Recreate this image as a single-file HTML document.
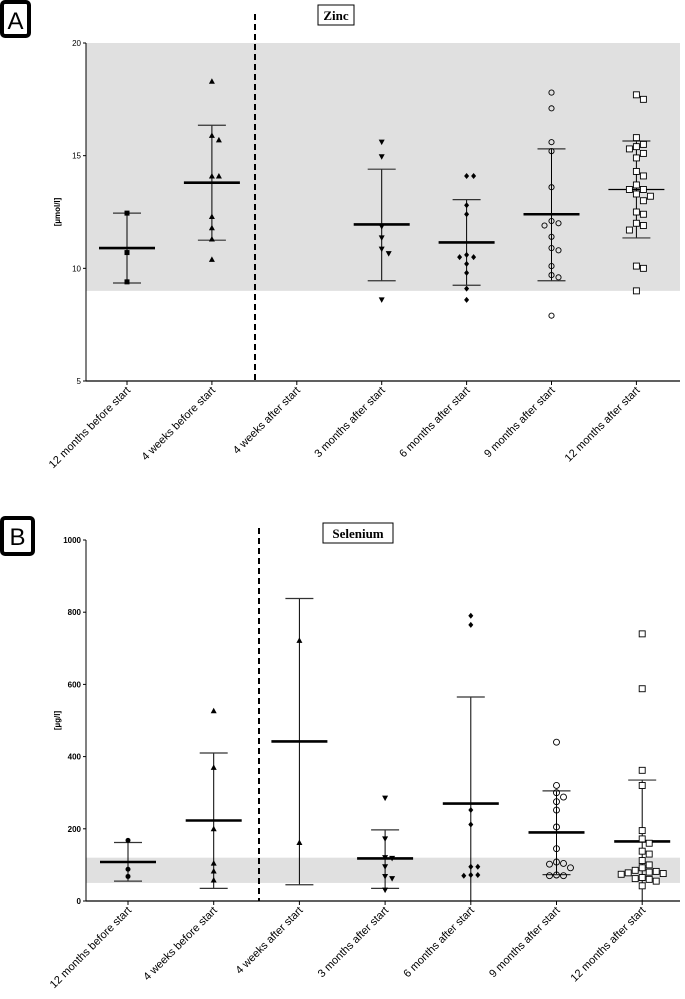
<!DOCTYPE html>
<html><head><meta charset="utf-8">
<style>
html,body{margin:0;padding:0;background:#fff;}
svg{display:block;font-family:"Liberation Sans",sans-serif;}
</style></head>
<body>
<svg id="fig" width="685" height="999" viewBox="0 0 685 999">
  <rect x="2" y="2" width="27" height="34" rx="3" fill="#fff" stroke="#000" stroke-width="4"/>
  <text x="15.5" y="29" font-size="24" text-anchor="middle">A</text>
  <rect x="2" y="518" width="31" height="36" rx="3" fill="#fff" stroke="#000" stroke-width="4"/>
  <text x="17.5" y="545" font-size="24" text-anchor="middle">B</text>
  <g id="zinc"></g>
  <g id="selen"></g>
</svg>
<script>
const categories = ["12 months before start","4 weeks before start","4 weeks after start","3 months after start","6 months after start","9 months after start","12 months after start"];

const zincPoints = [
 [12.45,10.7,9.4],
 [18.3,15.9,15.7,14.1,14.1,12.3,11.8,11.3,10.4],
 [],
 [15.6,14.95,11.85,11.35,10.85,10.65,8.6],
 [14.1,14.1,12.8,12.4,10.6,10.5,10.5,10.2,9.8,9.1,8.6],
 [17.8,17.1,15.6,15.2,13.6,12.1,12.0,11.9,11.4,10.9,10.8,10.1,9.7,9.6,7.9],
 [17.7,17.5,15.8,15.5,15.4,15.3,15.1,14.9,14.3,14.1,13.7,13.5,13.5,13.3,13.2,13.0,12.5,12.4,12.0,11.9,11.7,10.1,10.0,9.0]
];
const zincMean = [10.9,13.8,null,11.95,11.15,12.4,13.5];
const zincLow  = [9.35,11.25,null,9.45,9.25,9.45,11.35];
const zincHigh = [12.45,16.35,null,14.4,13.05,15.3,15.65];
const zincTicks = [5,10,15,20];
const zincRef = [9,20];

const selPoints = [
 [168,88,68],
 [527,370,200,105,83,58],
 [722,162],
 [285,172,120,118,95,68,62,30],
 [790,765,252,212,95,95,72,72,70],
 [440,320,300,288,275,252,205,145,108,104,102,92,72,70,70],
 [740,588,362,320,195,172,160,138,130,112,100,92,85,82,80,78,76,74,65,62,60,55,42]
];
const selMean = [108,223,442,118,270,190,165];
const selLow  = [55,35,45,35,0,73,0];
const selHigh = [162,410,838,197,565,305,335];
const selTicks = [0,200,400,600,800,1000];
const selRef = [50,120];

const markers = ["square","triangle","triangle","invtri","diamond","circle","opensq"];
const NS="http://www.w3.org/2000/svg";
function mk(parent,tag,attrs){const e=document.createElementNS(NS,tag);for(const k in attrs)e.setAttribute(k,attrs[k]);parent.appendChild(e);return e;}

function drawChart(g,cfg){
  const yS=v=>cfg.y0+(v-cfg.vmin)/(cfg.vmax-cfg.vmin)*(cfg.y1-cfg.y0);
  const xS=i=>cfg.xFirst+i*cfg.xStep;
  let r=mk(g,'rect',{x:cfg.axX,y:yS(cfg.ref[1]),width:680-cfg.axX,height:yS(cfg.ref[0])-yS(cfg.ref[1]),fill:'#e0e0e0'});
  
  
  let ax=mk(g,'line',{x1:cfg.axX,y1:yS(cfg.vmax),x2:cfg.axX,y2:cfg.y0,stroke:'#000','stroke-width':1});
  
  
  let bx=mk(g,'line',{x1:cfg.axX,y1:cfg.y0,x2:680,y2:cfg.y0,stroke:'#000','stroke-width':1.2});
  
  
  cfg.ticks.forEach(t=>{
    const y=yS(t);
    const tl=mk(g,'line',{x1:cfg.axX-3,y1:y,x2:cfg.axX,y2:y,stroke:'#000'});
    
    
    const tx=mk(g,'text',{x:cfg.axX-5,y:y+3,'font-size':cfg.tickFont,'text-anchor':'end','font-weight':cfg.tickBold?'bold':'normal'});
    tx.textContent=t;
    
    
  });
  const yt=mk(g,'text',{x:0,y:0,'font-size':8,'font-weight':'bold','text-anchor':'middle',transform:`translate(${cfg.axX-26},${(yS(cfg.vmax)+cfg.y0)/2}) rotate(-90)`});
  yt.textContent=cfg.unit;
  
  
  const dl=mk(g,'line',{x1:cfg.dashX,y1:cfg.dashTop,x2:cfg.dashX,y2:cfg.y0,stroke:'#000','stroke-width':2,'stroke-dasharray':'6,4'});
  
  
  const tb=mk(g,'rect',{x:cfg.titleX-cfg.titleW/2,y:cfg.titleY-13,width:cfg.titleW,height:20,fill:'#fff',stroke:'#000','stroke-width':1});
  
  
  const tt=mk(g,'text',{x:cfg.titleX,y:cfg.titleY+2,'font-size':13,'font-weight':'bold','text-anchor':'middle','font-family':'Liberation Serif, serif'});
  tt.textContent=cfg.title;
  
  
  categories.forEach((c,i)=>{
    const x=xS(i);
    const tk=mk(g,'line',{x1:x,y1:cfg.y0,x2:x,y2:cfg.y0+4,stroke:'#000'});
    
    
    const lb=mk(g,'text',{x:0,y:0,'font-size':11,'text-anchor':'end',transform:`translate(${x+4},${cfg.y0+10}) rotate(-45)`});
    lb.textContent=c;
    
    
    if(cfg.mean[i]!=null){
      const lo=Math.max(cfg.low[i],cfg.vmin);
      const eb=mk(g,'line',{x1:x,y1:yS(lo),x2:x,y2:yS(cfg.high[i]),stroke:'#000','stroke-width':1});
      
      
      [cfg.high[i],cfg.low[i]].forEach(v=>{ if(v<=cfg.vmin) return;
        const cp=mk(g,'line',{x1:x-14,y1:yS(v),x2:x+14,y2:yS(v),stroke:'#333','stroke-width':1.2});
        
        
      });
      const thin = cfg.thinLast && i===6;
      const ml=mk(g,'line',{x1:x-28,y1:yS(cfg.mean[i]),x2:x+28,y2:yS(cfg.mean[i]),stroke:'#000','stroke-width':thin?1.2:2.6});
      
      
    }
    const pts=cfg.points[i];
    const placed=[];
    pts.forEach((v,j)=>{
      const py=yS(v);
      // find offset avoiding overlap
      let off=0;
      const cands=[0,7,-7,14,-14,21,-21];
      for(const o of cands){
        if(!placed.some(p=>Math.abs(p[0]-o)<7 && Math.abs(p[1]-py)<7)){off=o;break;}
      }
      placed.push([off,py]);
      const px=x+off;
      let m;
      const t=markers[i];
      if(t==='square') m=mk(g,'rect',{x:px-2.5,y:py-2.5,width:5,height:5,fill:'#000'});
      else if(t==='opensq') m=mk(g,'rect',{x:px-3,y:py-3,width:6,height:6,fill:'#fff',stroke:'#000','stroke-width':0.9});
      else if(t==='circle') m=mk(g,'circle',{cx:px,cy:py,r:cfg.circR,fill:'none',stroke:'#000','stroke-width':0.9});
      else if(t==='triangle') m=mk(g,'polygon',{points:`${px},${py-3} ${px-3},${py+2.5} ${px+3},${py+2.5}`,fill:'#000'});
      else if(t==='invtri') m=mk(g,'polygon',{points:`${px},${py+3} ${px-3},${py-2.5} ${px+3},${py-2.5}`,fill:'#000'});
      else m=mk(g,'polygon',{points:`${px},${py-3} ${px+2.5},${py} ${px},${py+3} ${px-2.5},${py}`,fill:'#000'});
      if(cfg.roundFirst && i===0){g.removeChild(m);m=mk(g,'circle',{cx:px,cy:py,r:2.5,fill:'#000'});}
      
      
    });
  });
}

drawChart(document.getElementById('zinc'),{
  vmin:5,vmax:20,y0:381,y1:43,axX:86,xFirst:127,xStep:84.9,
  ticks:zincTicks,ref:zincRef,unit:'[µmol/l]',tickFont:8,tickBold:false,
  dashX:255,dashTop:14,title:'Zinc',titleX:336,titleY:18,titleW:36,
  points:zincPoints,mean:zincMean,low:zincLow,high:zincHigh,circR:2.6,thinLast:true
});
drawChart(document.getElementById('selen'),{
  vmin:0,vmax:1000,y0:901,y1:540,axX:86,xFirst:128,xStep:85.7,
  ticks:selTicks,ref:selRef,unit:'[µg/l]',tickFont:8,tickBold:true,
  dashX:259,dashTop:528,title:'Selenium',titleX:358,titleY:536,titleW:70,
  points:selPoints,mean:selMean,low:selLow,high:selHigh,circR:3,roundFirst:true
});
</script>
</body></html>
